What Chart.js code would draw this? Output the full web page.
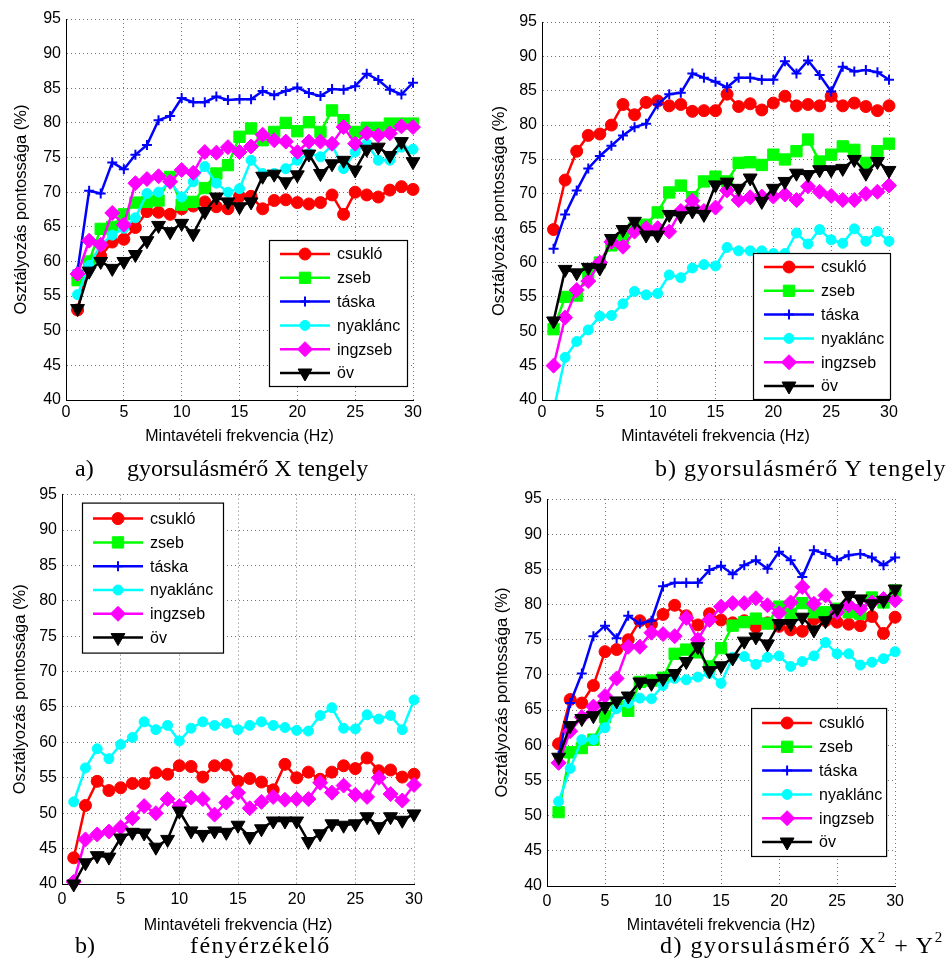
<!DOCTYPE html>
<html><head><meta charset="utf-8">
<script src="https://cdn.jsdelivr.net/npm/chart.js@4.4.1/dist/chart.umd.min.js"></script>
<style>
html,body{margin:0;padding:0;background:#fff;}
#page{position:relative;width:952px;height:970px;overflow:hidden;background:#fff;}
canvas{position:absolute;}
.cap{position:absolute;font-family:"Liberation Serif","Times New Roman",serif;font-size:24px;color:#000;white-space:nowrap;line-height:1;z-index:5;}
.cap sup{font-size:15px;vertical-align:top;position:relative;top:-3px;}
</style></head><body><div id="page">
<canvas id="cA" width="430" height="450" style="left:0px;top:0px;width:430px;height:450px"></canvas>
<canvas id="cB" width="440" height="450" style="left:470px;top:0px;width:440px;height:450px"></canvas>
<canvas id="cC" width="430" height="470" style="left:0px;top:480px;width:430px;height:470px"></canvas>
<canvas id="cD" width="440" height="470" style="left:470px;top:480px;width:440px;height:470px"></canvas>
<div class="cap" style="left:75px;top:456px">a)</div>
<div class="cap" style="left:127px;top:456px">gyorsulásmérő X tengely</div>
<div class="cap" style="left:655px;top:456px;letter-spacing:1px">b) gyorsulásmérő Y tengely</div>
<div class="cap" style="left:75px;top:933px">b)</div>
<div class="cap" style="left:190px;top:933px;letter-spacing:1.4px">fényérzékelő</div>
<div class="cap" style="left:660px;top:933px;letter-spacing:1.5px">d) gyorsulásmérő X<sup>2</sup> + Y<sup>2</sup></div>
</div>
<script>
// ---------- DATA ----------
const freq = [1,2,3,4,5,6,7,8,9,10,11,12,13,14,15,16,17,18,19,20,21,22,23,24,25,26,27,28,29,30];
const seriesNames = ['csukló','zseb','táska','nyaklánc','ingzseb','öv'];
const yTickValues = [40,45,50,55,60,65,70,75,80,85,90,95];
const xTickValues = [0,5,10,15,20,25,30];
const xTitle = 'Mintavételi frekvencia (Hz)';
const yTitle = 'Osztályozás pontossága (%)';

// a) gyorsulásmérő X tengely
const csukloA   = [53.0,59.8,60.8,62.8,63.2,64.9,67.2,67.1,66.8,67.6,68.0,68.6,67.9,67.6,69.4,69.4,67.6,68.8,68.9,68.5,68.3,68.5,69.6,66.8,70.0,69.6,69.3,70.3,70.8,70.4];
const zsebA     = [57.3,60.0,64.7,65.0,66.8,68.5,68.6,68.8,72.2,68.2,68.6,70.6,72.7,73.9,78.0,79.2,77.5,78.7,80.0,78.8,80.1,78.7,81.8,80.4,78.7,79.3,79.3,79.9,79.9,79.9];
const taskaA    = [58.7,70.2,69.8,74.3,73.3,75.4,76.8,80.4,81.0,83.6,83.0,83.0,83.8,83.3,83.4,83.4,84.6,84.0,84.6,85.1,84.3,83.9,84.9,84.8,85.3,87.1,86.2,84.8,84.1,85.8];
const nyaklancA = [55.2,59.4,62.4,63.8,64.8,66.3,69.8,70.0,71.5,69.3,71.5,73.7,71.3,70.0,70.5,74.6,72.7,72.7,73.4,74.6,75.6,75.1,76.8,73.4,75.8,77.0,74.6,74.6,76.5,76.2];
const ingzsebA  = [58.2,63.0,62.4,67.0,65.3,71.3,71.9,72.3,71.5,73.2,72.8,75.8,75.7,76.5,75.8,76.6,78.3,77.5,77.3,75.8,77.3,77.3,77.0,79.4,77.0,78.5,78.2,78.5,79.5,79.4];
const ovA       = [53.2,58.6,60.0,59.0,60.0,61.0,63.0,65.2,64.3,65.5,64.0,67.2,69.3,68.6,67.9,68.6,72.3,72.6,71.5,72.5,75.5,72.7,74.1,74.6,73.2,76.2,76.5,75.3,77.3,74.4];

// b) gyorsulásmérő Y tengely
const csukloB   = [64.8,72.0,76.2,78.5,78.7,80.0,83.0,81.5,83.3,83.5,82.8,83.0,82.0,82.1,82.1,84.5,82.7,83.1,82.2,83.2,84.2,82.8,83.0,82.8,84.2,82.8,83.2,82.7,82.1,82.8];
const zsebB     = [50.3,55.0,55.2,58.5,60.0,62.5,63.5,65.0,65.5,67.3,70.2,71.2,69.5,71.8,72.5,71.8,74.5,74.6,74.2,75.7,75.0,76.2,77.9,74.7,75.7,76.9,76.4,74.5,76.2,77.3];
const taskaB    = [62.0,67.0,70.5,73.7,75.5,77.0,78.5,79.7,80.2,83.0,84.5,84.7,87.5,86.9,86.3,85.5,86.9,86.9,86.6,86.6,89.3,87.5,89.4,87.3,84.9,88.5,87.8,88.0,87.7,86.6];
const nyaklancB = [38.5,46.2,48.5,50.2,52.2,52.3,54.0,55.8,55.3,55.5,58.2,57.8,59.2,59.7,59.5,62.2,61.7,61.7,61.7,61.3,61.3,64.3,62.7,64.8,63.3,62.8,64.9,63.1,64.5,63.1];
const ingzsebB  = [45.0,52.0,56.0,57.3,60.0,63.0,62.3,64.5,65.0,65.0,64.5,67.5,69.0,67.5,68.0,70.5,69.1,69.5,69.6,69.6,69.9,69.1,71.1,70.3,69.7,69.1,69.1,70.0,70.3,71.2];
const ovB       = [51.5,59.0,58.5,59.3,59.2,63.5,64.8,66.0,64.0,64.0,67.0,66.8,67.5,67.0,71.3,71.7,70.8,72.3,68.9,70.8,71.8,73.0,72.8,73.5,73.5,73.7,75.0,73.0,74.7,73.4];

// b) fényérzékelő (zseb and táska not visible in the plotted range)
const csukloC   = [43.7,51.1,54.5,53.2,53.6,54.2,54.2,55.7,55.5,56.7,56.6,55.1,56.7,56.8,54.5,54.9,54.4,53.3,56.9,55.0,55.8,54.8,55.8,56.7,56.3,57.8,56.0,56.1,55.1,55.5];
const zsebC     = [];
const taskaC    = [];
const nyaklancC = [51.6,56.4,59.1,57.7,59.7,60.7,62.9,61.8,62.4,60.2,62.0,62.9,62.4,62.7,61.8,62.4,62.9,62.4,62.1,61.7,61.6,63.8,64.9,62.0,61.9,63.9,63.3,63.8,61.8,66.0];
const ingzsebC  = [40.3,46.3,47.0,47.4,48.0,49.3,51.0,50.0,52.0,51.0,52.2,52.0,49.8,51.5,52.9,50.7,51.6,52.3,51.9,52.0,52.0,54.3,52.9,53.9,52.6,52.3,55.0,52.7,51.8,54.0];
const ovC       = [40.0,43.0,44.0,43.8,46.5,47.3,47.2,45.2,46.3,50.3,47.5,47.0,47.5,47.3,48.3,46.7,47.8,48.9,48.9,48.9,46.0,47.1,48.5,48.3,48.5,49.5,48.1,49.5,49.0,49.9];

// d) gyorsulásmérő X^2 + Y^2
const csukloD   = [60.2,66.5,66.0,68.5,73.3,73.6,75.0,77.7,77.2,78.6,79.9,78.4,77.1,78.7,77.8,77.4,77.7,76.8,77.4,76.9,76.4,76.2,77.9,77.7,77.5,77.2,77.0,78.3,75.9,78.2];
const zsebD     = [50.5,59.0,59.6,60.8,64.0,66.0,64.9,69.0,69.2,69.6,73.0,73.6,73.2,71.2,73.8,77.0,77.5,78.0,77.3,79.7,78.7,80.2,78.9,78.9,79.4,78.9,78.7,81.0,80.3,82.0];
const taskaD    = [58.5,66.0,70.2,75.5,77.0,75.2,78.4,77.3,77.7,82.6,83.1,83.1,83.1,84.9,85.5,84.3,85.6,86.3,85.1,87.5,86.3,83.9,87.7,87.2,86.3,87.0,87.2,86.7,85.6,86.7];
const nyaklancD = [52.0,56.7,60.8,60.8,62.5,65.2,66.0,66.7,66.6,68.5,69.5,69.3,69.7,70.2,68.8,72.5,72.6,71.5,72.5,72.7,71.2,71.9,72.7,74.6,73.0,73.0,71.4,71.8,72.3,73.3];
const ingzsebD  = [57.5,62.0,64.0,65.5,67.0,69.5,74.0,74.0,76.0,75.8,75.5,78.1,75.0,77.8,79.7,80.2,80.2,80.9,79.9,78.8,80.3,82.5,80.1,81.3,78.9,79.9,79.4,80.3,80.8,80.6];
const ovD       = [58.3,62.8,63.8,64.2,65.5,66.3,67.0,69.0,68.8,69.5,70.2,71.9,74.0,70.6,71.3,72.4,74.8,75.4,74.4,77.3,77.3,78.2,76.4,77.7,79.4,81.3,80.8,80.1,80.6,82.2];

// ---------- STYLE ----------
Chart.defaults.font.family = "'Liberation Sans', Arial, Helvetica, sans-serif";
Chart.defaults.color = '#000';

const seriesStyles = [
  {color:'#ff0000', pointStyle:'circle',  radius:6,   rotation:0,   pbw:1},
  {color:'#00ff00', pointStyle:'rect',    radius:8,   rotation:0,   pbw:1},
  {color:'#0000ff', pointStyle:'cross',   radius:5,   rotation:0,   pbw:2},
  {color:'#00ffff', pointStyle:'circle',  radius:5,   rotation:0,   pbw:1},
  {color:'#ff00ff', pointStyle:'rectRot', radius:7.5, rotation:0,   pbw:1},
  {color:'#000000', pointStyle:'triangle',radius:8,   rotation:180, pbw:1}
];

function drawMarker(ctx, st, x, y) {
  ctx.save();
  ctx.fillStyle = st.color; ctx.strokeStyle = st.color; ctx.lineWidth = st.pbw;
  if (Chart.helpers && Chart.helpers.drawPoint) {
    Chart.helpers.drawPoint(ctx, {pointStyle: st.pointStyle, radius: st.radius, rotation: st.rotation, borderWidth: st.pbw}, x, y);
  }
  ctx.restore();
}

const insideLegend = {
  id: 'insideLegend',
  afterDraw(chart, args, opts) {
    if (!opts || !opts.w) return;
    const {ctx, chartArea} = chart;
    let x0, y0;
    if (opts.corner === 'br') { x0 = chartArea.right - opts.dx - opts.w; y0 = chartArea.bottom - opts.dy - opts.h; }
    else { x0 = chartArea.left + opts.dx; y0 = chartArea.top + opts.dy; }
    ctx.save();
    ctx.fillStyle = '#fff';
    ctx.fillRect(x0, y0, opts.w, opts.h);
    ctx.strokeStyle = '#000'; ctx.lineWidth = 1.2;
    ctx.strokeRect(x0 + 0.5, y0 + 0.5, opts.w - 1, opts.h - 1);
    const sp = 23.8;
    const first = (opts.h - 5 * sp) / 2;
    chart.data.datasets.forEach((ds, i) => {
      const st = seriesStyles[i];
      const y = y0 + first + i * sp;
      ctx.strokeStyle = st.color; ctx.lineWidth = 2.5;
      ctx.beginPath(); ctx.moveTo(x0 + 11, y); ctx.lineTo(x0 + 61, y); ctx.stroke();
      drawMarker(ctx, st, x0 + 36, y);
      ctx.fillStyle = '#000';
      ctx.font = "16px 'Liberation Sans', Arial, sans-serif";
      ctx.textBaseline = 'middle'; ctx.textAlign = 'left';
      ctx.fillText(ds.label, x0 + 68, y + 1);
    });
    ctx.restore();
  }
};

function makeDatasets(valueLists, clipBottomIndex) {
  return valueLists.map((vals, i) => {
    const st = seriesStyles[i];
    return {
      label: seriesNames[i],
      data: vals.map((v, k) => ({x: freq[k], y: v})),
      borderColor: st.color,
      backgroundColor: st.color,
      borderWidth: 2.5,
      pointStyle: st.pointStyle,
      pointRadius: st.radius,
      pointRotation: st.rotation,
      pointBackgroundColor: st.color,
      pointBorderColor: st.color,
      pointBorderWidth: st.pbw,
      tension: 0,
      order: 5 - i,
      clip: (i === clipBottomIndex) ? {left:false, top:false, right:false, bottom:0} : false
    };
  });
}

function makeChart(id, valueLists, L, clipBottomIndex) {
  const gridColor = 'rgba(0,0,0,0.55)';
  new Chart(document.getElementById(id), {
    type: 'line',
    data: { datasets: makeDatasets(valueLists, clipBottomIndex) },
    plugins: [insideLegend],
    options: {
      responsive: false, animation: false, devicePixelRatio: 1, events: [],
      layout: { padding: {top: L.padTop, right: L.padRight, left: 0, bottom: 0} },
      plugins: { legend: {display:false}, tooltip: {enabled:false}, insideLegend: L.legend },
      scales: {
        x: {
          type: 'linear', min: xTickValues[0], max: xTickValues[xTickValues.length-1],
          afterBuildTicks: s => { s.ticks = xTickValues.map(v => ({value: v})); },
          ticks: { font: {size: 16}, padding: L.xTickPad, maxRotation: 0, color:'#000' },
          grid: { color: gridColor, lineWidth: 1, drawTicks: false },
          border: { display: true, color: '#000', width: 1, dash: [1, 3] },
          title: { display: true, text: xTitle, font: {size: 16}, padding: {top: 0, bottom: L.xTitlePad}, color:'#000' },
          afterFit: s => { s.height = L.xH; }
        },
        y: {
          type: 'linear', min: yTickValues[0], max: yTickValues[yTickValues.length-1],
          afterBuildTicks: s => { s.ticks = yTickValues.map(v => ({value: v})); },
          ticks: { font: {size: 16}, padding: 5, color:'#000' },
          grid: { color: gridColor, lineWidth: 1, drawTicks: false },
          border: { display: true, color: '#000', width: 1, dash: [1, 3] },
          title: { display: true, text: yTitle, font: {size: 16.5}, padding: {top: L.yTitlePad, bottom: 0}, color:'#000' },
          afterFit: s => { s.width = L.yW; }
        }
      }
    }
  });
}

makeChart('cA', [csukloA, zsebA, taskaA, nyaklancA, ingzsebA, ovA],
  {padTop:19, padRight:17, yW:66, xH:50, xTickPad:3, xTitlePad:4, yTitlePad:12,
   legend:{corner:'br', dx:5, dy:13, w:139, h:147}}, -1);
makeChart('cB', [csukloB, zsebB, taskaB, nyaklancB, ingzsebB, ovB],
  {padTop:22, padRight:21, yW:72, xH:50, xTickPad:3, xTitlePad:4, yTitlePad:20,
   legend:{corner:'br', dx:-2, dy:0, w:138, h:147}}, 3);
makeChart('cC', [csukloC, zsebC, taskaC, nyaklancC, ingzsebC, ovC],
  {padTop:11, padRight:16, yW:62, xH:66, xTickPad:6, xTitlePad:15, yTitlePad:11,
   legend:{corner:'tl', dx:20, dy:8, w:142, h:151}}, -1);
makeChart('cD', [csukloD, zsebD, taskaD, nyaklancD, ingzsebD, ovD],
  {padTop:19, padRight:12, yW:77, xH:64, xTickPad:6, xTitlePad:15, yTitlePad:23,
   legend:{corner:'br', dx:8, dy:29, w:136, h:149}}, -1);
</script>
</body></html>
